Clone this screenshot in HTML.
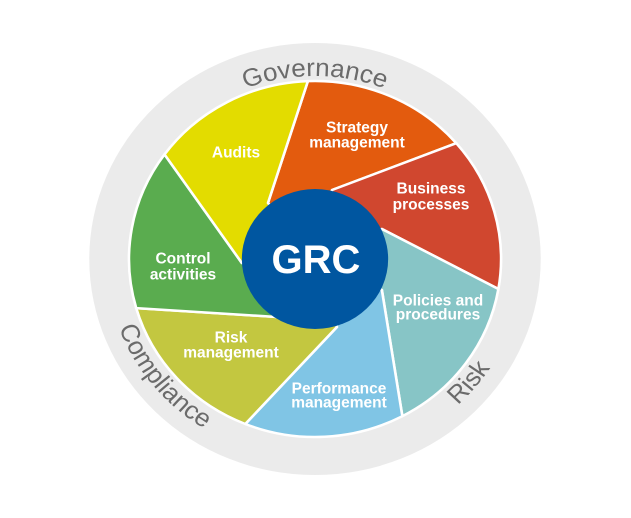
<!DOCTYPE html>
<html><head><meta charset="utf-8"><style>
html,body{margin:0;padding:0;background:#fff;}
svg{display:block;}
</style></head><body>
<svg width="631" height="518" viewBox="0 0 631 518" xmlns="http://www.w3.org/2000/svg">
<g transform="translate(315,259) scale(1.045,1)">
  <circle cx="0" cy="0" r="216" fill="#ebebeb"/>
  <g stroke="#fff" stroke-width="2.5" stroke-linejoin="round">
    <path d="M-6.8,-177.9 A178,178 0 0 1 135.2,-115.8 L16.3,-69 L0,0 L-45,-56 Z" fill="#e35b0e"/>
    <path d="M135.2,-115.8 A178,178 0 0 1 175.5,30 L64,-30 L0,0 L16.3,-69 Z" fill="#d0472f"/>
    <path d="M175.5,30 A178,178 0 0 1 83.6,157.2 L64,31 L0,0 L64,-30 Z" fill="#87c5c6"/>
    <path d="M83.6,157.2 A178,178 0 0 1 -66.7,165 L21,68 L0,0 L64,31 Z" fill="#80c5e5"/>
    <path d="M-66.7,165 A178,178 0 0 1 -171.1,49.1 L-36.4,58 L0,0 L21,68 Z" fill="#c3c740"/>
    <path d="M-171.1,49.1 A178,178 0 0 1 -144,-104.6 L-70,4 L0,0 L-36.4,58 Z" fill="#5aac4f"/>
    <path d="M-144,-104.6 A178,178 0 0 1 -6.8,-177.9 L-45,-56 L0,0 L-70,4 Z" fill="#e3dc00"/>
  </g>
  <circle cx="0" cy="0" r="70" fill="#0056a0"/>
  <defs>
    <path id="top" d="M-183,0 A183,183 0 0 1 183,0"/>
    <path id="bot" d="M-200,0 A200,200 0 0 0 200,0"/>
  </defs>
  <g font-family="Liberation Sans, sans-serif" font-size="25" fill="#6b6b6b">
    <text><textPath href="#top" startOffset="50%" text-anchor="middle">Governance</textPath></text>
    <text><textPath href="#bot" startOffset="21.7%" text-anchor="middle">Compliance</textPath></text>
    <text><textPath href="#bot" startOffset="77.8%" text-anchor="middle">Risk</textPath></text>
  </g>
</g>
<g font-family="Liberation Sans, sans-serif" font-weight="bold" fill="#fff" text-anchor="middle" dominant-baseline="central" font-size="15.5">
  <text x="357" y="128">Strategy</text>
  <text x="357" y="143">management</text>
  <text x="431" y="189">Business</text>
  <text x="431" y="205">processes</text>
  <text x="236" y="153">Audits</text>
  <text x="183" y="259">Control</text>
  <text x="183" y="275">activities</text>
  <text x="438" y="301">Policies and</text>
  <text x="438" y="315">procedures</text>
  <text x="231" y="338">Risk</text>
  <text x="231" y="353">management</text>
  <text x="339" y="389">Performance</text>
  <text x="339" y="403">management</text>
  <text x="316" y="260" font-size="40">GRC</text>
</g>
</svg>
</body></html>
